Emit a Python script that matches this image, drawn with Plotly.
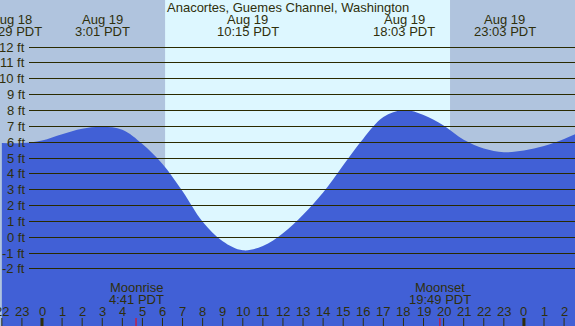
import plotly.graph_objects as go

# ---- data ----
hours = [-2, -1, 0, 1, 2, 3, 4, 5, 6, 7, 8, 9, 10, 11, 12, 13, 14, 15, 16,
         17, 18, 19, 20, 21, 22, 23, 24, 25, 26, 27]
heights = [5.94, 5.94, 6.10, 6.50, 6.85, 6.97, 6.78, 5.88, 4.62, 2.90, 0.98,
           -0.25, -0.82, -0.55, 0.25, 1.42, 2.82, 4.55, 6.22, 7.58, 8.03,
           7.72, 7.05, 6.15, 5.60, 5.37, 5.47, 5.75, 6.20, 6.75]

extreme_hours = [-1.52, 3.02, 10.25, 18.05, 23.05]
extreme_dates = ["Aug 18", "Aug 19", "Aug 19", "Aug 19", "Aug 19"]
extreme_times = ["22:29 PDT", "3:01 PDT", "10:15 PDT", "18:03 PDT", "23:03 PDT"]

sunrise_h = 6.13
sunset_h = 20.32

moon_hours = [4.683, 19.817]
moon_names = ["Moonrise", "Moonset"]
moon_times = ["4:41 PDT", "19:49 PDT"]

grid_feet = list(range(-2, 13))
tick_hours = list(range(-2, 27))

title = "Anacortes, Guemes Channel, Washington"

# ---- styling ----
W, H = 575, 326
X_RANGE = [-2.092, 26.544]
Y_RANGE = [-5.60, 14.97]
NIGHT = "#B0C4DE"
DAY = "#DDF7FF"
WATER = "#4160D6"
INK = "#2f2f0c"
GRID = "#2a2a00"
FONT = "Liberation Sans, Arial, sans-serif"


def py(p):
    return 1 - p / H


fig = go.Figure()
fig.add_trace(go.Scatter(x=hours, y=[Y_RANGE[0] - 1] * len(hours), mode="lines",
                         line=dict(width=0), hoverinfo="skip", showlegend=False))
fig.add_trace(go.Scatter(x=hours, y=heights, mode="lines", fill="tonexty",
                         fillcolor=WATER, line=dict(width=0, shape="spline", color=WATER),
                         hoverinfo="skip", showlegend=False))
# empty trace to create the grid subplot (grid starts right of the ft labels)
fig.add_trace(go.Scatter(x=[None], y=[None], xaxis="x2", yaxis="y2",
                         hoverinfo="skip", showlegend=False))

shapes = []
# night shading
shapes.append(dict(type="rect", xref="x", yref="paper", x0=X_RANGE[0] - 1, x1=sunrise_h,
                   y0=0, y1=1, fillcolor=NIGHT, line=dict(width=0), layer="below"))
shapes.append(dict(type="rect", xref="x", yref="paper", x0=sunset_h, x1=X_RANGE[1] + 1,
                   y0=0, y1=1, fillcolor=NIGHT, line=dict(width=0), layer="below"))
# hour ticks
for h in tick_hours:
    mid = (h % 24 == 0)
    shapes.append(dict(type="line", xref="x", yref="paper", x0=h, x1=h,
                       y0=0, y1=py(318), line=dict(color=INK, width=3 if mid else 1),
                       layer="above"))
# moon ticks
for h in moon_hours:
    shapes.append(dict(type="line", xref="x", yref="paper", x0=h, x1=h,
                       y0=0, y1=py(318), line=dict(color="#ff0000", width=1),
                       layer="above"))

ann = []
fnt = dict(family=FONT, size=13, color=INK)
ann.append(dict(text=title, x=0.5, xref="paper", y=py(8), yref="paper",
                showarrow=False, font=fnt, xanchor="center", yanchor="middle"))
for h, d, t in zip(extreme_hours, extreme_dates, extreme_times):
    ann.append(dict(text=d, x=h, xref="x", y=py(19.5), yref="paper", showarrow=False,
                    font=fnt, xanchor="center", yanchor="middle"))
    ann.append(dict(text=t, x=h, xref="x", y=py(31), yref="paper", showarrow=False,
                    font=fnt, xanchor="center", yanchor="middle"))
for f in grid_feet:
    ann.append(dict(text=f"{f} ft", x=27 / W, xref="paper", y=f, yref="y",
                    showarrow=False, font=fnt, xanchor="right", yanchor="middle"))
for h in tick_hours:
    ann.append(dict(text=str(h % 24), x=h, xref="x", y=py(311.5), yref="paper",
                    showarrow=False, font=fnt, xanchor="center", yanchor="middle"))
for h, n, t in zip(moon_hours, moon_names, moon_times):
    ann.append(dict(text=n, x=h, xref="x", y=py(287), yref="paper", showarrow=False,
                    font=fnt, xanchor="center", yanchor="middle"))
    ann.append(dict(text=t, x=h, xref="x", y=py(299), yref="paper", showarrow=False,
                    font=fnt, xanchor="center", yanchor="middle"))

fig.update_layout(
    width=W, height=H, margin=dict(l=0, r=0, t=0, b=0),
    paper_bgcolor=DAY, plot_bgcolor="rgba(0,0,0,0)",
    xaxis=dict(range=X_RANGE, visible=False, fixedrange=True),
    yaxis=dict(range=Y_RANGE, visible=False, fixedrange=True),
    xaxis2=dict(domain=[29 / W, 1], range=[0, 1], visible=False, fixedrange=True,
                anchor="y2"),
    yaxis2=dict(range=Y_RANGE, anchor="x2", fixedrange=True, showticklabels=False,
                ticks="", showline=False, zeroline=False, showgrid=True,
                tickmode="array", tickvals=grid_feet, gridcolor=GRID, gridwidth=1),
    shapes=shapes, annotations=ann, showlegend=False,
)
fig.write_html("out.html", config=dict(displayModeBar=False),
               post_script="document.body.style.margin='0';document.body.style.overflow='hidden';")
